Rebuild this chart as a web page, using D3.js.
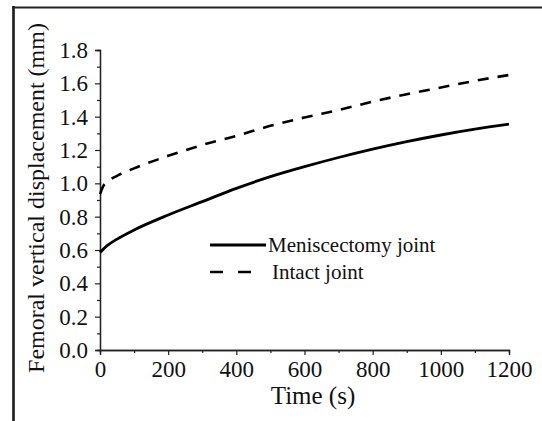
<!DOCTYPE html>
<html>
<head>
<meta charset="UTF-8" />
<script src="https://cdn.jsdelivr.net/npm/d3@7/dist/d3.min.js"></script>
<style>
  body { margin: 0; background: #fff; }
  svg text { font-family: "Liberation Serif", "Times New Roman", serif; fill: #111; }
</style>
</head>
<body>
<script>
// values
var timeS = [0, 20, 50, 100, 200, 300, 400, 500, 600, 700, 800, 900, 1000, 1100, 1200];
var meniscectomy = [0.585, 0.625, 0.665, 0.72, 0.81, 0.89, 0.97, 1.04, 1.10, 1.155, 1.205, 1.25, 1.29, 1.325, 1.355];
var intactTime = [0, 10, 25, 50, 100, 200, 300, 400, 500, 600, 700, 800, 900, 1000, 1100, 1200];
var intact = [0.935, 0.985, 1.015, 1.045, 1.09, 1.165, 1.23, 1.285, 1.345, 1.395, 1.44, 1.49, 1.535, 1.575, 1.615, 1.65];
var xTicks = [0, 200, 400, 600, 800, 1000, 1200];
var yTicks = [0.0, 0.2, 0.4, 0.6, 0.8, 1.0, 1.2, 1.4, 1.6, 1.8];
var seriesNames = ["Meniscectomy joint", "Intact joint"];

var W = 542, H = 421;
var serif = "Liberation Serif";
var svg = d3.select("body").append("svg").attr("width", W).attr("height", H);

// cropped frame (left + top edges only)
svg.append("line").attr("x1", 13.5).attr("x2", 13.5).attr("y1", 6).attr("y2", H)
  .attr("stroke", "#222").attr("stroke-width", 2.7);
svg.append("line").attr("x1", 12).attr("x2", W).attr("y1", 7.5).attr("y2", 7.5)
  .attr("stroke", "#222").attr("stroke-width", 2.2);

var x = d3.scaleLinear().domain([0, 1200]).range([100, 509]);
var y = d3.scaleLinear().domain([0, 1.8]).range([350, 50]);

// minor ticks, then major ticks with labels
var gx = svg.append("g").attr("transform", "translate(0,350)");
gx.call(d3.axisBottom(x).tickValues(d3.range(100, 1200, 200)).tickSize(3).tickFormat(""));
gx.append("g").call(d3.axisBottom(x).tickValues(xTicks).tickSize(5).tickPadding(5).tickFormat(d3.format("d")));
var gy = svg.append("g").attr("transform", "translate(100,0)");
gy.call(d3.axisLeft(y).tickValues(d3.range(0.1, 1.8, 0.2)).tickSize(3).tickFormat(""));
gy.append("g").call(d3.axisLeft(y).tickValues(yTicks).tickSize(5).tickPadding(7).tickFormat(d3.format(".1f")));

svg.selectAll("g").attr("font-family", serif);
svg.selectAll(".domain").attr("stroke", "#222").attr("stroke-width", 1.3);
svg.selectAll(".tick line").attr("stroke", "#222").attr("stroke-width", 1.2);
svg.selectAll(".tick text").style("font-family", serif).style("font-size", "23px").attr("fill", "#111");
gx.selectAll(".tick text").attr("dy", "0.72em");

var line = d3.line().x(function (d) { return x(d[0]); }).y(function (d) { return y(d[1]); }).curve(d3.curveMonotoneX);

svg.append("path").datum(d3.zip(timeS, meniscectomy))
  .attr("d", line).attr("fill", "none").attr("stroke", "#000").attr("stroke-width", 2.8);
svg.append("path").datum(d3.zip(intactTime, intact))
  .attr("d", line).attr("fill", "none").attr("stroke", "#000").attr("stroke-width", 2.6)
  .attr("stroke-dasharray", "11,9");

// axis titles
svg.append("text").attr("x", 313).attr("y", 404).attr("text-anchor", "middle")
  .style("font-size", "25px").text("Time (s)");
svg.append("text").attr("transform", "translate(44,198) rotate(-90)").attr("text-anchor", "middle")
  .style("font-size", "24px").text("Femoral vertical displacement (mm)");

// legend
var leg = svg.append("g");
leg.append("line").attr("x1", 210).attr("x2", 266).attr("y1", 245).attr("y2", 245)
  .attr("stroke", "#000").attr("stroke-width", 2.8);
leg.append("line").attr("x1", 210).attr("x2", 266).attr("y1", 272).attr("y2", 272)
  .attr("stroke", "#000").attr("stroke-width", 2.6).attr("stroke-dasharray", "13,15");
leg.append("text").attr("x", 268).attr("y", 252).style("font-size", "21px").text(seriesNames[0]);
leg.append("text").attr("x", 272).attr("y", 279).style("font-size", "21px").text(seriesNames[1]);
</script>
</body>
</html>
